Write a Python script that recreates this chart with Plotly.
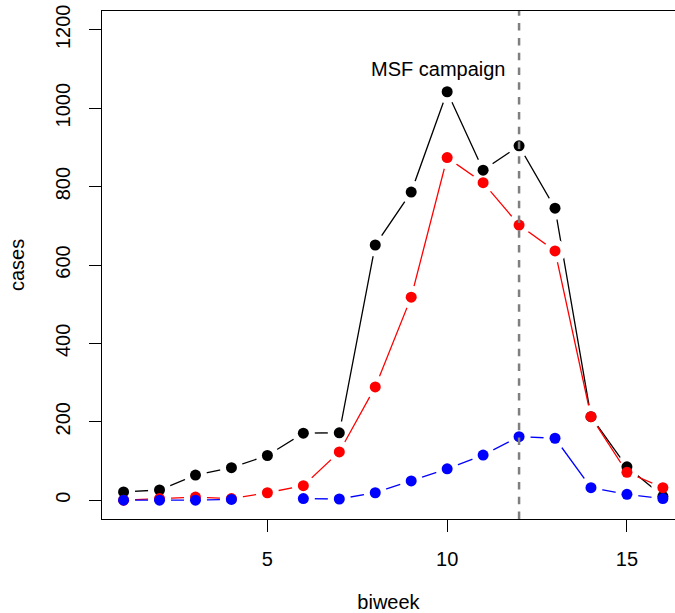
import plotly.graph_objects as go

# ---- data ----
biweek = list(range(1, 17))
total_cases = [21, 26, 64, 83, 114, 171, 172, 651, 786, 1042, 842, 904, 745, 213, 85, 10]
red_cases = [0, 4, 8, 4, 19, 37, 123, 289, 518, 874, 810, 702, 636, 213, 71, 32]
blue_cases = [0, 0, 0, 2, None, 4, 3, 19, 49, 80, 115, 162, 158, 32, 15, 4]

series_values = [total_cases, red_cases, blue_cases]
series_colors = ["#000000", "#ff0000", "#0000ff"]

campaign_week = 12
campaign_label = "MSF campaign"
campaign_label_y = 1100

x_ticks = [5, 10, 15]
x_ticklabels = ["5", "10", "15"]
y_ticks = [0, 200, 400, 600, 800, 1000, 1200]
y_ticklabels = ["0", "200", "400", "600", "800", "1000", "1200"]

FONT = "Liberation Sans, Arial, sans-serif"

fig = go.Figure()

# lines with gaps around points (R type="b"): white discs cut the line near each point
for vals, col in zip(series_values, series_colors):
    fig.add_trace(go.Scatter(
        x=biweek, y=vals, mode="lines+markers",
        line=dict(color=col, width=1.3),
        marker=dict(size=23, color="white", line=dict(width=0)),
        connectgaps=False, hoverinfo="skip", showlegend=False,
    ))

# points
for vals, col in zip(series_values, series_colors):
    fig.add_trace(go.Scatter(
        x=biweek, y=vals, mode="markers",
        marker=dict(size=11, color=col, line=dict(width=0)),
        showlegend=False,
    ))

# campaign vertical dashed line
fig.add_trace(go.Scatter(
    x=[campaign_week, campaign_week], y=[-48, 1248], mode="lines",
    line=dict(color="#7f7f7f", width=2.5, dash="7.5px,7.3px"),
    hoverinfo="skip", showlegend=False,
))

fig.add_annotation(
    x=campaign_week, y=campaign_label_y, text=campaign_label,
    xanchor="right", yanchor="middle", xshift=-11, yshift=0,
    showarrow=False, font=dict(family=FONT, size=20, color="black"),
)

fig.update_layout(
    width=675, height=613,
    margin=dict(l=102, r=0, t=11, b=94),
    paper_bgcolor="white", plot_bgcolor="white",
    font=dict(family=FONT, size=20, color="black"),
    showlegend=False,
    xaxis=dict(
        range=[0.4, 16.337], tickmode="array", tickvals=x_ticks, ticktext=x_ticklabels,
        ticks="outside", ticklen=12, tickwidth=1.2, tickcolor="black",
        showline=True, linecolor="black", linewidth=1.3, mirror=True,
        showgrid=False, zeroline=False, ticklabelstandoff=10,
        title=dict(text="biweek", standoff=27, font=dict(size=20)),
        automargin=False,
    ),
    yaxis=dict(
        range=[-48, 1248], tickmode="array", tickvals=y_ticks, ticktext=y_ticklabels,
        ticks="outside", ticklen=12, tickwidth=1.2, tickcolor="black", tickangle=-90,
        showline=True, linecolor="black", linewidth=1.3, mirror=False,
        showgrid=False, zeroline=False, ticklabelstandoff=11,
        title=dict(text="cases", standoff=21, font=dict(size=20)),
        automargin=False,
    ),
)

fig.write_html("out.html")
